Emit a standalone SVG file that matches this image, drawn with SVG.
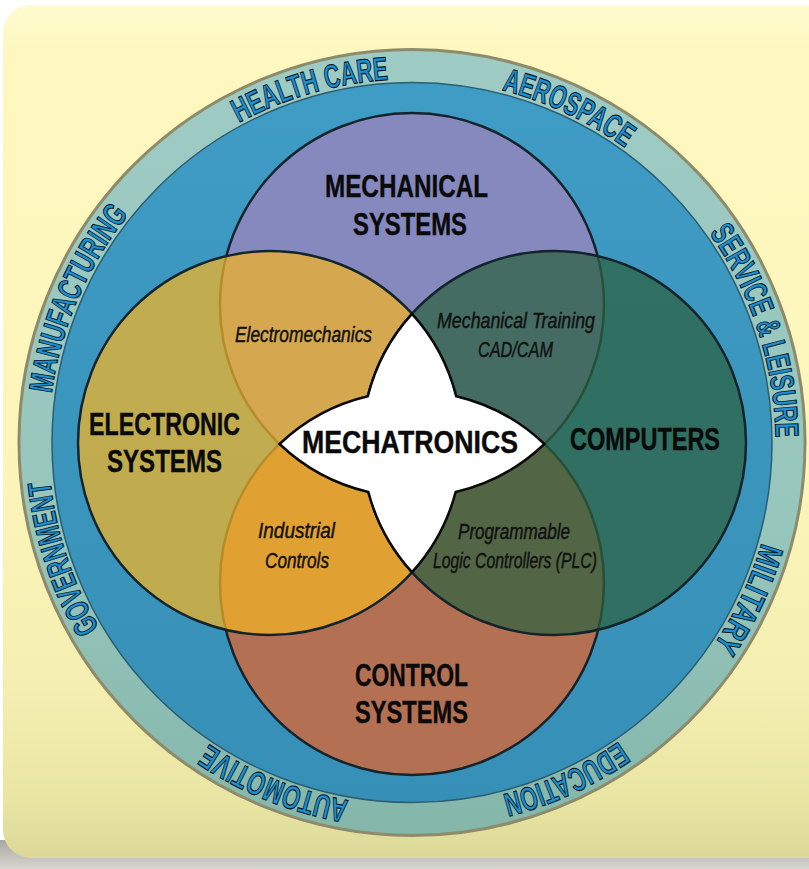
<svg xmlns="http://www.w3.org/2000/svg" width="809" height="869" viewBox="0 0 809 869">
<defs>
<linearGradient id="bg" x1="0" y1="0" x2="0" y2="1">
<stop offset="0" stop-color="#fffbd0"/>
<stop offset="0.05" stop-color="#fef8c0"/>
<stop offset="0.55" stop-color="#fcf5bb"/>
<stop offset="0.8" stop-color="#f4efb0"/>
<stop offset="0.93" stop-color="#e9e5a3"/>
<stop offset="1" stop-color="#dcd898"/>
</linearGradient>
<linearGradient id="shadow" x1="0" y1="0" x2="0" y2="1">
<stop offset="0" stop-color="#a9a9a0"/>
<stop offset="1" stop-color="#d6d6d0"/>
</linearGradient>
<linearGradient id="ringG" x1="0" y1="0" x2="0" y2="1">
<stop offset="0" stop-color="#9ecbc3"/>
<stop offset="0.6" stop-color="#97c6bd"/>
<stop offset="1" stop-color="#84b6aa"/>
</linearGradient>
<linearGradient id="blueG" x1="0" y1="0" x2="0" y2="1">
<stop offset="0" stop-color="#3f9cc4"/>
<stop offset="1" stop-color="#368fb7"/>
</linearGradient>
<path id="ringPath" d="M412,806 A363.5,363.5 0 1 1 412,79 A363.5,363.5 0 1 1 412,806"/>
</defs>
<style>
.ring{font-family:"Liberation Sans",Arial,sans-serif;font-weight:bold;font-size:33px;fill:#1a8fd2;stroke:#06121c;stroke-width:1.1px}
.title{font-family:"Liberation Sans",Arial,sans-serif;font-weight:bold;font-size:31px;fill:#0a0a0a;stroke:#0a0a0a;stroke-width:0.4px}
.sub{font-family:"Liberation Sans",Arial,sans-serif;font-style:italic;font-size:22px;fill:#111111;stroke:#111111;stroke-width:0.45px}
.circ{stroke:#14242c;stroke-width:2.5}
</style>

<g id="background">
<rect x="0" y="0" width="809" height="869" fill="#ffffff"/>
<rect x="0" y="840" width="809" height="29" fill="url(#shadow)"/>
<rect x="3" y="5" width="840" height="853" rx="28" fill="url(#bg)"/>
</g>

<g id="industries">
<circle cx="412" cy="442.5" r="393" fill="url(#ringG)" stroke="#8e8b6b" stroke-width="3"/>
<circle cx="412" cy="442.5" r="360" fill="url(#blueG)" stroke="#2c5d70" stroke-width="1.5"/>
<text class="ring"><textPath href="#ringPath" startOffset="45.53%" text-anchor="middle" textLength="157" lengthAdjust="spacingAndGlyphs">HEALTH CARE</textPath></text>
<text class="ring"><textPath href="#ringPath" startOffset="56.97%" text-anchor="middle" textLength="137" lengthAdjust="spacingAndGlyphs">AEROSPACE</textPath></text>
<text class="ring"><textPath href="#ringPath" startOffset="70%" text-anchor="middle" textLength="218" lengthAdjust="spacingAndGlyphs">SERVICE &amp; LEISURE</textPath></text>
<text class="ring"><textPath href="#ringPath" startOffset="81.94%" text-anchor="middle" textLength="114" lengthAdjust="spacingAndGlyphs">MILITARY</textPath></text>
<text class="ring"><textPath href="#ringPath" startOffset="93.19%" text-anchor="middle" textLength="129" lengthAdjust="spacingAndGlyphs">EDUCATION</textPath></text>
<text class="ring"><textPath href="#ringPath" startOffset="6.11%" text-anchor="middle" textLength="152" lengthAdjust="spacingAndGlyphs">AUTOMOTIVE</textPath></text>
<text class="ring"><textPath href="#ringPath" startOffset="19.89%" text-anchor="middle" textLength="156" lengthAdjust="spacingAndGlyphs">GOVERNMENT</textPath></text>
<text class="ring"><textPath href="#ringPath" startOffset="31.47%" text-anchor="middle" textLength="197" lengthAdjust="spacingAndGlyphs">MANUFACTURING</textPath></text>
</g>

<g id="mechanical">
<circle class="circ" cx="412" cy="305" r="192" fill="#8589be"/>
<text class="title" x="325" y="197" textLength="163" lengthAdjust="spacingAndGlyphs">MECHANICAL</text>
<text class="title" x="353" y="235" textLength="114" lengthAdjust="spacingAndGlyphs">SYSTEMS</text>
</g>

<g id="control">
<circle class="circ" cx="412" cy="583" r="192" fill="#b37052"/>
<text class="title" x="355" y="686" textLength="113" lengthAdjust="spacingAndGlyphs">CONTROL</text>
<text class="title" x="355" y="723" textLength="113" lengthAdjust="spacingAndGlyphs">SYSTEMS</text>
</g>

<g id="electronic">
<circle class="circ" cx="270" cy="443" r="192" fill="#f3b426" fill-opacity="0.73"/>
<text class="title" x="89" y="435" textLength="151" lengthAdjust="spacingAndGlyphs">ELECTRONIC</text>
<text class="title" x="107" y="472" textLength="115" lengthAdjust="spacingAndGlyphs">SYSTEMS</text>
</g>

<g id="computers">
<circle class="circ" cx="554" cy="443" r="192" fill="#2c613f" fill-opacity="0.72"/>
<text class="title" x="570" y="450" textLength="150" lengthAdjust="spacingAndGlyphs">COMPUTERS</text>
</g>

<g id="mechatronics">
<path d="M412,313.8 A192,192 0 0 0 367.8,396.2 A192,192 0 0 0 279.55,444 A192,192 0 0 0 368.35,492 A192,192 0 0 0 412,572.2 A192,192 0 0 0 455.65,492 A192,192 0 0 0 544.45,444 A192,192 0 0 0 456.2,396.2 A192,192 0 0 0 412,313.8 Z" fill="#ffffff" stroke="#0a0a0a" stroke-width="2.5" stroke-linejoin="miter"/>
<text class="title" x="302" y="453" font-size="32" textLength="216" lengthAdjust="spacingAndGlyphs">MECHATRONICS</text>
</g>

<g id="electromechanics">
<text class="sub" x="235" y="342" textLength="137" lengthAdjust="spacingAndGlyphs">Electromechanics</text>
</g>

<g id="mechanical-training">
<text class="sub" x="437" y="328" textLength="158" lengthAdjust="spacingAndGlyphs">Mechanical Training</text>
<text class="sub" x="478" y="357" textLength="75" lengthAdjust="spacingAndGlyphs">CAD/CAM</text>
</g>

<g id="industrial-controls">
<text class="sub" x="258" y="538" textLength="77" lengthAdjust="spacingAndGlyphs">Industrial</text>
<text class="sub" x="265" y="568" textLength="64" lengthAdjust="spacingAndGlyphs">Controls</text>
</g>

<g id="plc">
<text class="sub" x="458" y="539" textLength="112" lengthAdjust="spacingAndGlyphs">Programmable</text>
<text class="sub" x="433" y="568" textLength="164" lengthAdjust="spacingAndGlyphs">Logic Controllers (PLC)</text>
</g>

<g id="connectors"></g>
</svg>
